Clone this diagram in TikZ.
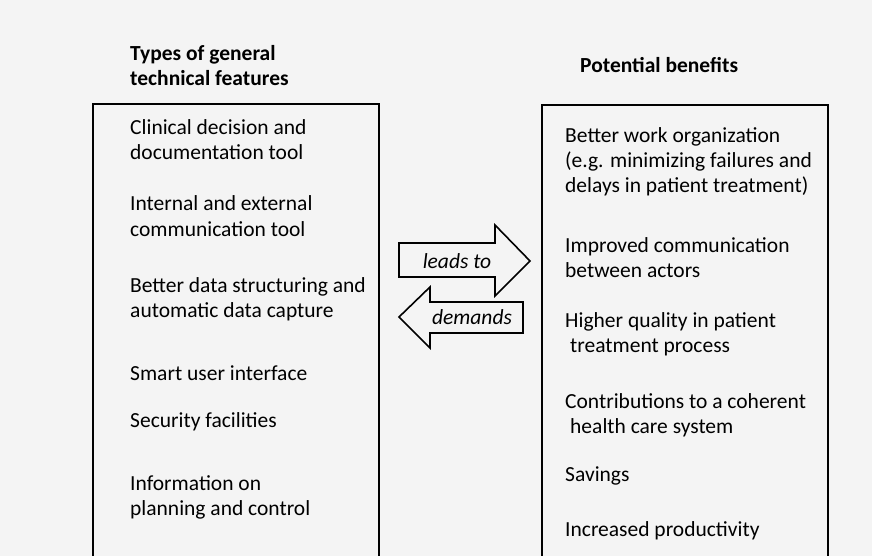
\documentclass[tikz,border=0pt]{standalone}
\usepackage{fontspec}
\setmainfont{Carlito}
\definecolor{bg}{HTML}{F4F4F4}
\begin{document}
\begin{tikzpicture}[x=1pt,y=-1pt,
  item/.style={anchor=base west,align=left,inner sep=0pt,font=\fontsize{21.5}{25}\selectfont},
  head/.style={anchor=base west,align=left,inner sep=0pt,font=\bfseries\fontsize{21.5}{25}\selectfont},
  panel/.style={draw=black,line width=1.6pt},
  arrowshape/.style={draw=black,line width=1.6pt,fill=bg,line join=miter},
  lbl/.style={inner sep=0pt,font=\itshape\fontsize{21.5}{25}\selectfont}]
\fill[bg] (0,0) rectangle (872,556);
\useasboundingbox (0,0) rectangle (872,556);
% panels
\draw[panel] (93,570) -- (93,104) -- (379,104) -- (379,570);
\draw[panel] (542,570) -- (542,105) -- (828,105) -- (828,570);
% headings (anchor = baseline of last line)
\node[head] (hl) at (130,86) {Types of general\\technical features};
\node[head] (hr) at (580,73) {Potential benefits};
% left items
\node[item] (l1) at (130,160) {Clinical decision and\\documentation tool};
\node[item] (l2) at (130,236) {Internal and external\\communication tool};
\node[item] (l3) at (130,317) {Better data structuring and\\automatic data capture};
\node[item] (l4) at (130,380) {Smart user interface};
\node[item] (l5) at (130,427) {Security facilities};
\node[item] (l6) at (130,515) {Information on\\planning and control};
% right items
\node[item] (r1) at (565,193) {Better work organization\\(e.g. minimizing failures and\\delays in patient treatment)};
\node[item] (r2) at (565,277) {Improved communication\\between actors};
\node[item] (r3) at (565,352) {Higher quality in patient\\\hspace*{5pt}treatment process};
\node[item] (r4) at (565,433) {Contributions to a coherent\\\hspace*{5pt}health care system};
\node[item] (r5) at (565,481) {Savings};
\node[item] (r6) at (565,536) {Increased productivity};
% arrows
\draw[arrowshape] (399,243) -- (495,243) -- (495,225) -- (530,261) -- (495,296) -- (495,277) -- (399,277) -- cycle;
\node[lbl] (lt) at (457,261) {leads to};
\draw[arrowshape] (523,302) -- (430,302) -- (430,287) -- (399,317) -- (430,348) -- (430,333) -- (523,333) -- cycle;
\node[lbl] (dm) at (472,317) {demands};
\end{tikzpicture}
\end{document}
